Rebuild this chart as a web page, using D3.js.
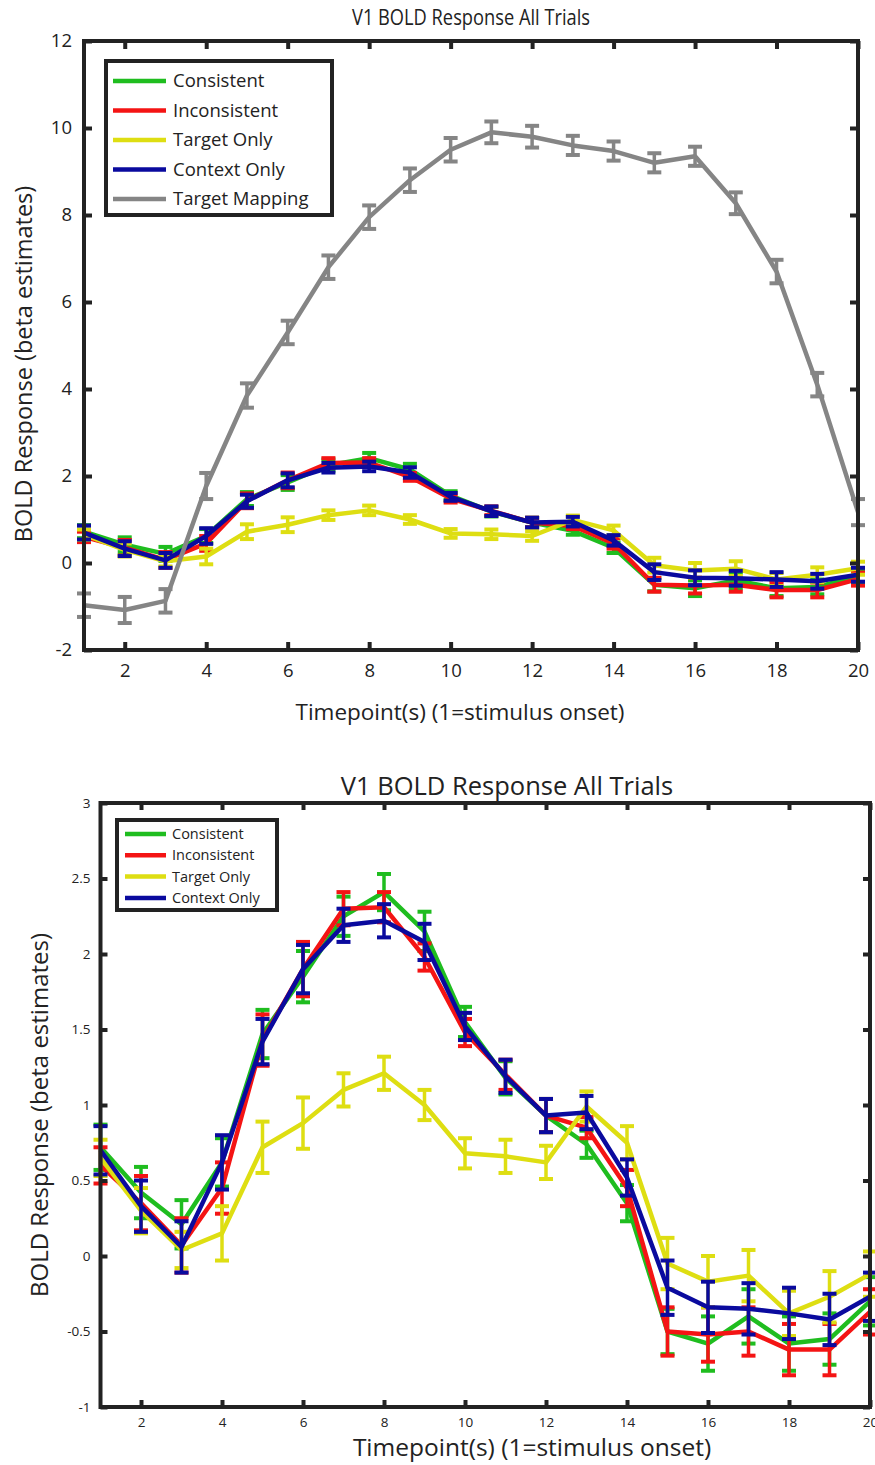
<!DOCTYPE html>
<html>
<head>
<meta charset="utf-8">
<script src="https://cdn.jsdelivr.net/npm/d3@7"></script>
<style>
  html, body { margin: 0; padding: 0; background: #fff; }
  svg { display: block; }
  text { font-family: "Open Sans", "Noto Sans", sans-serif; fill: #222; }
</style>
</head>
<body>
<svg id="chart" width="875" height="1465"></svg>
<script>
// ---------------- DATA ----------------
const timepoints = [1,2,3,4,5,6,7,8,9,10,11,12,13,14,15,16,17,18,19,20];

const consistent      = [0.72,0.42,0.21,0.62,1.47,1.85,2.25,2.41,2.15,1.55,1.18,0.93,0.74,0.35,-0.50,-0.58,-0.40,-0.58,-0.55,-0.30];
const consistentErr   = [0.15,0.17,0.16,0.16,0.16,0.17,0.13,0.12,0.13,0.10,0.11,0.11,0.09,0.12,0.15,0.18,0.18,0.18,0.17,0.16];

const inconsistent    = [0.60,0.35,0.07,0.45,1.43,1.90,2.30,2.31,1.98,1.48,1.20,0.93,0.85,0.45,-0.50,-0.52,-0.50,-0.62,-0.62,-0.37];
const inconsistentErr = [0.12,0.18,0.18,0.17,0.17,0.18,0.11,0.10,0.09,0.09,0.10,0.11,0.07,0.12,0.16,0.18,0.16,0.17,0.17,0.15];

const targetOnly      = [0.65,0.30,0.04,0.15,0.72,0.88,1.10,1.21,1.00,0.68,0.66,0.62,0.99,0.75,-0.05,-0.17,-0.13,-0.38,-0.27,-0.12];
const targetOnlyErr   = [0.12,0.15,0.12,0.18,0.17,0.17,0.11,0.11,0.10,0.10,0.11,0.11,0.10,0.11,0.17,0.17,0.17,0.15,0.17,0.15];

const contextOnly     = [0.70,0.33,0.06,0.62,1.42,1.90,2.19,2.22,2.08,1.52,1.19,0.93,0.95,0.52,-0.21,-0.34,-0.35,-0.38,-0.42,-0.27];
const contextOnlyErr  = [0.16,0.17,0.17,0.18,0.15,0.16,0.11,0.11,0.12,0.09,0.11,0.11,0.11,0.12,0.18,0.17,0.17,0.17,0.17,0.16];

const targetMapping    = [-0.97,-1.08,-0.87,1.77,3.85,5.30,6.80,7.95,8.80,9.50,9.90,9.80,9.60,9.47,9.20,9.35,8.27,6.70,4.10,1.17];
const targetMappingErr = [0.27,0.30,0.27,0.30,0.28,0.27,0.27,0.27,0.27,0.27,0.25,0.25,0.22,0.22,0.22,0.22,0.25,0.27,0.27,0.30];

const seriesNames = ["Consistent","Inconsistent","Target Only","Context Only","Target Mapping"];

const xTicks = [2,4,6,8,10,12,14,16,18,20];
const yTicksTop = [-2,0,2,4,6,8,10,12];
const yTicksBottom = [-1,-0.5,0,0.5,1,1.5,2,2.5,3];

const chartTitle = "V1 BOLD Response All Trials";
const xLabel = "Timepoint(s) (1=stimulus onset)";
const yLabel = "BOLD Response (beta estimates)";

// ---------------- STYLE ----------------
const colors = {
  "Consistent": "#1fbd1f",
  "Inconsistent": "#f41414",
  "Target Only": "#dede12",
  "Context Only": "#0a0a9e",
  "Target Mapping": "#858585"
};

const allSeries = [
  {name: "Consistent",     values: consistent,    err: consistentErr},
  {name: "Inconsistent",   values: inconsistent,  err: inconsistentErr},
  {name: "Target Only",    values: targetOnly,    err: targetOnlyErr},
  {name: "Context Only",   values: contextOnly,   err: contextOnlyErr},
  {name: "Target Mapping", values: targetMapping, err: targetMappingErr}
];

const svg = d3.select("#chart");

function drawChart(cfg) {
  const g = svg.append("g");
  const x = d3.scaleLinear().domain([1, 20]).range([cfg.left, cfg.right]);
  const y = d3.scaleLinear().domain(cfg.yDomain).range([cfg.bottom, cfg.top]);
  const frame = "#222";

  // series
  const series = allSeries.filter(s => cfg.series.includes(s.name));
  const line = d3.line().x((d, i) => x(timepoints[i])).y(d => y(d));
  series.forEach(s => {
    const sg = g.append("g");
    const c = colors[s.name];
    sg.append("path").attr("d", line(s.values))
      .attr("fill", "none").attr("stroke", c)
      .attr("stroke-width", cfg.lineW).attr("stroke-linejoin", "round");
    s.values.forEach((v, i) => {
      const xx = x(timepoints[i]);
      const y1 = y(v + s.err[i]), y0 = y(v - s.err[i]);
      sg.append("line").attr("x1", xx).attr("x2", xx).attr("y1", y1).attr("y2", y0)
        .attr("stroke", c).attr("stroke-width", cfg.errW);
      [y1, y0].forEach(yy => {
        sg.append("line").attr("x1", xx - cfg.cap / 2).attr("x2", xx + cfg.cap / 2)
          .attr("y1", yy).attr("y2", yy).attr("stroke", c).attr("stroke-width", cfg.capW);
      });
    });
  });

  // axes (box with inward ticks on all sides)
  const axB = d3.axisBottom(x).tickValues(xTicks).tickSizeInner(-cfg.tick).tickSizeOuter(0)
    .tickPadding(cfg.tick + cfg.xPad).tickFormat(d3.format("d"));
  const axT = d3.axisTop(x).tickValues(xTicks).tickSizeInner(-cfg.tick).tickSizeOuter(0).tickFormat("");
  const axL = d3.axisLeft(y).tickValues(cfg.yTicks).tickSizeInner(-cfg.tick).tickSizeOuter(0)
    .tickPadding(cfg.tick + cfg.yPad).tickFormat(d => String(d));
  const axR = d3.axisRight(y).tickValues(cfg.yTicks).tickSizeInner(-cfg.tick).tickSizeOuter(0).tickFormat("");

  const axes = [
    g.append("g").attr("transform", `translate(0,${cfg.bottom})`).call(axB),
    g.append("g").attr("transform", `translate(0,${cfg.top})`).call(axT),
    g.append("g").attr("transform", `translate(${cfg.left},0)`).call(axL),
    g.append("g").attr("transform", `translate(${cfg.right},0)`).call(axR)
  ];
  axes.forEach(a => {
    a.select(".domain").remove();
    a.selectAll(".tick line").attr("stroke", frame).attr("stroke-width", cfg.tickW);
    a.selectAll(".tick text").style("font-size", cfg.tickFont + "px").attr("fill", "#333")
      .style("font-family", '"Open Sans", sans-serif');
  });

  g.append("rect").attr("x", cfg.left).attr("y", cfg.top)
    .attr("width", cfg.right - cfg.left).attr("height", cfg.bottom - cfg.top)
    .attr("fill", "none").attr("stroke", frame).attr("stroke-width", cfg.frameW);

  // title & labels
  const t = g.append("text").attr("x", cfg.titleX).attr("y", cfg.titleY)
    .attr("text-anchor", "middle").style("font-size", cfg.titleFont + "px").text(chartTitle);
  if (cfg.titleLen) t.attr("textLength", cfg.titleLen).attr("lengthAdjust", "spacingAndGlyphs");
  g.append("text").attr("x", cfg.xLabX).attr("y", cfg.xLabY)
    .attr("text-anchor", "middle").style("font-size", cfg.xLabFont + "px").text(xLabel);
  g.append("text").attr("transform", `translate(${cfg.yLabX},${cfg.yLabY}) rotate(-90)`)
    .attr("text-anchor", "middle").style("font-size", cfg.yLabFont + "px").text(yLabel);

  // legend
  const L = cfg.legend;
  const lg = g.append("g");
  lg.append("rect").attr("x", L.x).attr("y", L.y).attr("width", L.w).attr("height", L.h)
    .attr("fill", "#fff").attr("stroke", frame).attr("stroke-width", cfg.frameW);
  cfg.series.forEach((name, i) => {
    const yy = L.y + L.first + i * L.step;
    lg.append("line").attr("x1", L.x + L.lx0).attr("x2", L.x + L.lx1).attr("y1", yy).attr("y2", yy)
      .attr("stroke", colors[name]).attr("stroke-width", cfg.lineW);
    lg.append("text").attr("x", L.x + L.tx).attr("y", yy).attr("dy", "0.35em")
      .style("font-size", L.font + "px").text(name);
  });
}

// top chart
drawChart({
  left: 84, right: 858, top: 41, bottom: 650,
  yDomain: [-2, 12], yTicks: yTicksTop,
  series: seriesNames,
  lineW: 4.5, errW: 3.5, capW: 4, cap: 14, tick: 8, tickW: 4, frameW: 4,
  tickFont: 18.5, xPad: 6, yPad: 4,
  titleX: 471, titleY: 25, titleFont: 22, titleLen: 238,
  xLabX: 460, xLabY: 720, xLabFont: 22.5,
  yLabX: 32, yLabY: 364, yLabFont: 23.5,
  legend: {x: 106, y: 61, w: 226, h: 154, first: 20, step: 29.5, lx0: 7, lx1: 60, tx: 67, font: 18.5}
});

// bottom chart
drawChart({
  left: 100.5, right: 870, top: 803, bottom: 1407,
  yDomain: [-1, 3], yTicks: yTicksBottom,
  series: seriesNames.slice(0, 4),
  lineW: 4.5, errW: 3.5, capW: 4, cap: 14, tick: 7, tickW: 4, frameW: 4,
  tickFont: 13.5, xPad: 3, yPad: 3,
  titleX: 507, titleY: 795, titleFont: 25.5,
  xLabX: 532, xLabY: 1456, xLabFont: 24.5,
  yLabX: 48, yLabY: 1115, yLabFont: 24,
  legend: {x: 117, y: 820, w: 160, h: 90, first: 14, step: 21.3, lx0: 8, lx1: 49, tx: 55, font: 14.5}
});
</script>
</body>
</html>
